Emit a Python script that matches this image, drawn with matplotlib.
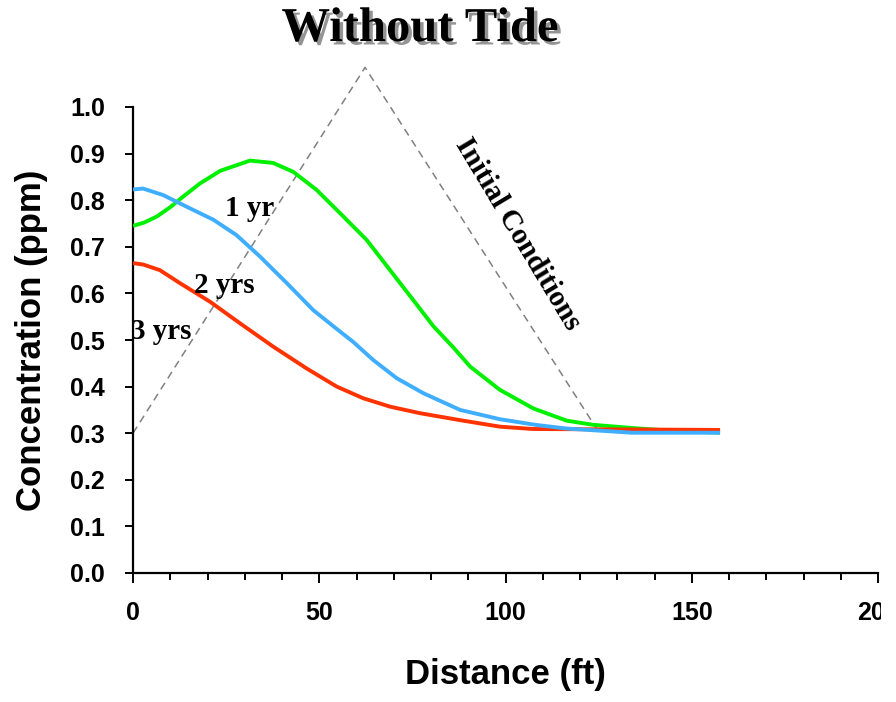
import matplotlib
matplotlib.use("Agg")
import matplotlib.pyplot as plt
import matplotlib.patheffects as pe
from matplotlib.transforms import Bbox

# ---- data ----
init_x = [0, 62.3, 125.4]
init_y = [0.30, 1.085, 0.298]

yr1_x = [0, 3, 6.4, 10, 13.5, 18, 23.4, 31.4, 37.6, 43, 49.3, 55.6, 62.7, 69, 75.2, 80.6,
         86, 90.5, 98.5, 107.5, 116.4, 123.5, 134.2, 143.3, 157.6]
yr1_y = [0.745, 0.752, 0.765, 0.785, 0.808, 0.836, 0.863, 0.885, 0.880, 0.861, 0.822, 0.772,
         0.715, 0.650, 0.586, 0.530, 0.484, 0.443, 0.393, 0.353, 0.327, 0.318, 0.311, 0.306, 0.301]

yr2_x = [0, 2.7, 8.1, 14.4, 21.6, 27.8, 34.1, 41.3, 48.4, 55.6, 59.1, 64.5, 70.8, 77.9,
         87.8, 98.5, 108, 116.4, 134, 157.6]
yr2_y = [0.823, 0.825, 0.811, 0.786, 0.758, 0.725, 0.679, 0.622, 0.564, 0.518, 0.496, 0.457,
         0.418, 0.386, 0.350, 0.330, 0.318, 0.310, 0.301, 0.301]

yr3_x = [0, 2.7, 7.2, 12.6, 20.7, 28.7, 37.6, 46.6, 54.7, 61.8, 69, 77, 87.8, 98.5, 107.4, 157.6]
yr3_y = [0.665, 0.662, 0.650, 0.622, 0.582, 0.536, 0.486, 0.439, 0.400, 0.375, 0.357, 0.343,
         0.328, 0.314, 0.309, 0.307]

series_labels = ["1 yr", "2 yrs", "3 yrs"]
label_pos = [(31.2, 0.782), (24.6, 0.618), (7.7, 0.518)]

x_ticks = [0, 50, 100, 150, 200]
y_ticks = [0.0, 0.1, 0.2, 0.3, 0.4, 0.5, 0.6, 0.7, 0.8, 0.9, 1.0]

# ---- figure ----
fig = plt.figure(figsize=(8.96, 7.02), dpi=100)
ax = fig.add_axes([133/896, 1 - 573/702, (878-133)/896, (573-107)/702])

ax.plot(init_x, init_y, color="#808080", lw=1.1, ls=(0, (5, 3.5)), clip_on=False, zorder=2)
ax.plot(yr1_x, yr1_y, color="#00F000", lw=2.8, solid_capstyle="butt", zorder=3)
ax.plot(yr3_x, yr3_y, color="#FF3300", lw=2.8, solid_capstyle="butt", zorder=3)
ax.plot(yr2_x, yr2_y, color="#3FAEFF", lw=2.8, solid_capstyle="butt", zorder=4)

serif = ["Liberation Serif", "DejaVu Serif"]
for lab, (lx, ly) in zip(series_labels, label_pos):
    ax.text(lx, ly, lab, fontsize=21, fontweight="bold", family=serif,
            ha="center", va="center", zorder=5)

ax.text(518/896, 1 - 234/702, "Initial Conditions", transform=fig.transFigure,
        fontsize=21, fontweight="bold", family=serif, rotation=-59,
        ha="center", va="center", rotation_mode="anchor")

ax.set_xlim(0, 200)
ax.set_ylim(0, 1.0)
ax.set_xticks(x_ticks)
ax.set_xticks(range(0, 201, 10), minor=True)
ax.set_yticks(y_ticks)
ax.set_yticklabels([f"{v:.1f}" for v in y_ticks])

for s in ["top", "right"]:
    ax.spines[s].set_visible(False)
for s in ["left", "bottom"]:
    ax.spines[s].set_linewidth(1.6)

sans = ["Liberation Sans", "DejaVu Sans"]
ax.tick_params(axis="x", which="major", direction="out", length=7, width=1.4, pad=13)
ax.tick_params(axis="x", which="minor", direction="out", length=5, width=1.4)
ax.tick_params(axis="y", which="major", direction="out", length=6, width=1.4, pad=14)
for t in ax.get_xticklabels() + ax.get_yticklabels():
    t.set_fontsize(18)
    t.set_fontweight("bold")
    t.set_family(sans)

ax.set_xlabel("Distance (ft)", fontsize=25, fontweight="bold", family=sans, labelpad=24)
ax.set_ylabel("Concentration (ppm)", fontsize=25, fontweight="bold", family=sans, labelpad=16)

fig.text(420/896, 1 - 29/702, "Without Tide", fontsize=35, fontweight="bold", family=serif,
         ha="center", va="center",
         path_effects=[pe.withSimplePatchShadow(offset=(2.5, -2.5), shadow_rgbFace="#888888", alpha=0.9)])

# clip the last x tick label at the figure edge like the reference
lbl = ax.get_xticklabels()[-1]
lbl.set_clip_box(Bbox([[0, 0], [881, 702]]))
lbl.set_clip_on(True)

fig.savefig("out.png", dpi=100)
